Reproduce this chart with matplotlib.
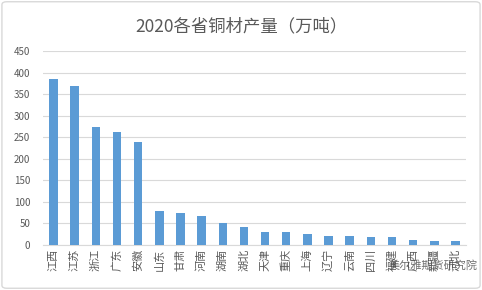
import numpy as np
import matplotlib.pyplot as plt
from matplotlib.patches import FancyBboxPatch

plt.rcParams['font.family'] = ['Noto Sans CJK SC', 'DejaVu Sans']

# Provinces and 2020 copper product output (10k tons)
provinces = ["江西", "江苏", "浙江", "广东", "安徽", "山东", "甘肃", "河南", "湖南", "湖北",
             "天津", "重庆", "上海", "辽宁", "云南", "四川", "福建", "广西", "新疆", "河北"]
output = [385, 370, 274, 263, 238, 79, 74, 68, 52, 41,
          31, 31, 25, 22, 20, 19, 19, 12, 10, 10]
y_ticks = [0, 50, 100, 150, 200, 250, 300, 350, 400, 450]


def main():
    fig = plt.figure(figsize=(4.82, 2.9), dpi=100)
    ax = fig.add_axes([0.089, 0.155, 0.878, 0.669])

    x = np.arange(len(provinces))
    ax.bar(x, output, width=0.4, color="#5B9BD5", zorder=3)

    ax.set_xlim(-0.5, len(provinces) - 0.5)
    ax.set_ylim(0, 450)
    ax.set_yticks(y_ticks)
    ax.set_xticks(x)
    ax.set_xticklabels(provinces, rotation=90, fontsize=8, color="#595959")
    ax.tick_params(axis="y", labelsize=7, labelcolor="#595959", length=0, pad=9)
    ax.tick_params(axis="x", length=0, pad=3)
    ax.grid(axis="y", color="#D9D9D9", linewidth=0.8, zorder=0)
    for s in ["top", "right", "left"]:
        ax.spines[s].set_visible(False)
    ax.spines["bottom"].set_color("#D9D9D9")

    fig.text(0.5, 0.91, "2020各省铜材产量（万吨）", ha="center", va="center",
             fontsize=12.5, color="#595959")

    # outer border of the chart
    border = FancyBboxPatch((0.004, 0.006), 0.992, 0.988, boxstyle="round,pad=0,rounding_size=0.01",
                            transform=fig.transFigure, fill=False, edgecolor="#D9D9D9", linewidth=1)
    fig.patches.append(border)

    # watermark
    fig.text(0.99, 0.085, "美尔雅期货研究院", ha="right", va="center", fontsize=8,
             color="#404040", alpha=0.75)

    fig.savefig("out.png", dpi=100)


if __name__ == "__main__":
    main()
